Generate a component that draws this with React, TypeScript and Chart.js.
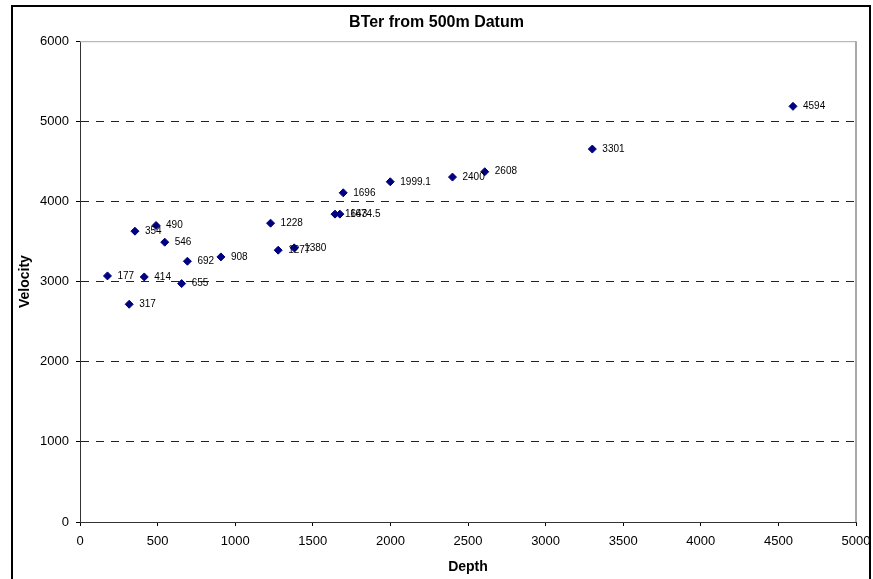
import React, { useEffect, useRef } from "react";
import { Chart, registerables } from "chart.js";

Chart.register(...registerables);

const depths = [177, 317, 354, 414, 490, 546, 655, 692, 908, 1228, 1277, 1380, 1643, 1674.5, 1696, 1999.1, 2400, 2608, 3301, 4594];
const velocities = [3071, 2717, 3629, 3058, 3700, 3492, 2975, 3254, 3308, 3729, 3392, 3421, 3842, 3842, 4108, 4246, 4304, 4371, 4654, 5187];
const pointLabels = ["177", "317", "354", "414", "490", "546", "655", "692", "908", "1228", "1277", "1380", "1643", "1674.5", "1696", "1999.1", "2400", "2608", "3301", "4594"];

const chartTitle = "BTer from 500m Datum";
const xTitle = "Depth";
const yTitle = "Velocity";

const FONT = "'Liberation Sans', Arial, sans-serif";

const framePlugin = {
  id: "frame",
  beforeDraw(chart: any) {
    const ctx = chart.ctx;
    ctx.save();
    ctx.fillStyle = "#ffffff";
    ctx.fillRect(0, 0, chart.width, chart.height);
    ctx.strokeStyle = "#000000";
    ctx.lineWidth = 2;
    ctx.strokeRect(12, 6, 858, 700);
    ctx.restore();
  },
  beforeDatasetsDraw(chart: any) {
    const { ctx, chartArea } = chart;
    ctx.save();
    ctx.strokeStyle = "#a8a8a8";
    ctx.lineWidth = 1;
    ctx.beginPath();
    ctx.moveTo(chartArea.left, chartArea.top + 0.5);
    ctx.lineTo(chartArea.right, chartArea.top + 0.5);
    ctx.stroke();
    ctx.lineWidth = 2;
    ctx.beginPath();
    ctx.moveTo(chartArea.right, chartArea.top);
    ctx.lineTo(chartArea.right, chartArea.bottom);
    ctx.stroke();
    ctx.restore();
  },
};

const labelPlugin = {
  id: "pointLabels",
  afterDatasetsDraw(chart: any) {
    const ctx = chart.ctx;
    const meta = chart.getDatasetMeta(0);
    ctx.save();
    ctx.font = `10px ${FONT}`;
    ctx.fillStyle = "#000000";
    ctx.textBaseline = "middle";
    ctx.textAlign = "left";
    meta.data.forEach((pt: any, i: number) => {
      ctx.fillText(pointLabels[i], pt.x + 10, pt.y);
    });
    ctx.restore();
  },
};

export default function App() {
  const ref = useRef<HTMLCanvasElement>(null);
  useEffect(() => {
    if (!ref.current) return;
    const chart = new Chart(ref.current, {
      type: "scatter",
      data: {
        datasets: [
          {
            data: depths.map((d, i) => ({ x: d, y: velocities[i] })),
            pointStyle: "rectRot",
            pointRadius: 4,
            pointHoverRadius: 4,
            backgroundColor: "#000080",
            borderColor: "#000080",
            borderWidth: 1,
          },
        ],
      },
      options: {
        animation: false,
        responsive: false,
        maintainAspectRatio: false,
        layout: { padding: { left: 17, right: 17, top: 0, bottom: 3 } },
        plugins: {
          legend: { display: false },
          tooltip: { enabled: false },
          title: {
            display: true,
            text: chartTitle,
            color: "#000000",
            font: { family: FONT, size: 16, weight: "bold" },
            padding: { top: 13, bottom: 9 },
          },
        },
        scales: {
          x: {
            type: "linear",
            min: 0,
            max: 5000,
            afterFit(scale: any) {
              scale.height = 54;
              scale.paddingRight = 0;
              scale.paddingLeft = 0;
            },
            ticks: {
              stepSize: 500,
              color: "#000000",
              font: { family: FONT, size: 13 },
              padding: 8,
              maxRotation: 0,
              autoSkip: false,
              callback: (v: any) => String(v),
            },
            grid: {
              display: true,
              drawOnChartArea: false,
              drawTicks: true,
              tickLength: 4,
              tickColor: "#000000",
            },
            border: { display: true, color: "#333333", width: 1 },
            title: {
              display: true,
              text: xTitle,
              color: "#000000",
              font: { family: FONT, size: 14, weight: "bold" },
              padding: 0,
            },
          },
          y: {
            type: "linear",
            min: 0,
            max: 6000,
            afterFit(scale: any) {
              scale.width = 63;
              scale.paddingTop = 0;
              scale.paddingBottom = 0;
            },
            ticks: {
              stepSize: 1000,
              color: "#000000",
              font: { family: FONT, size: 13 },
              padding: 7,
              callback: (v: any) => String(v),
            },
            grid: {
              display: true,
              drawOnChartArea: true,
              drawTicks: true,
              tickLength: 4,
              tickColor: "#000000",
              color: (ctx: any) => {
                const v = ctx.tick ? ctx.tick.value : null;
                if (v === 0 || v === 6000) return "rgba(0,0,0,0)";
                return "#222222";
              },
            },
            border: { display: true, color: "#333333", width: 1, dash: [8, 7] },
            title: {
              display: true,
              text: yTitle,
              color: "#000000",
              font: { family: FONT, size: 14, weight: "bold" },
              padding: 0,
            },
          },
        },
      },
      plugins: [framePlugin, labelPlugin],
    } as any);
    return () => chart.destroy();
  }, []);
  return (
    <div style={{ position: "fixed", left: 0, top: 0, width: 873, height: 579 }}>
      <canvas ref={ref} width={873} height={579} style={{ width: 873, height: 579, display: "block" }} />
    </div>
  );
}
